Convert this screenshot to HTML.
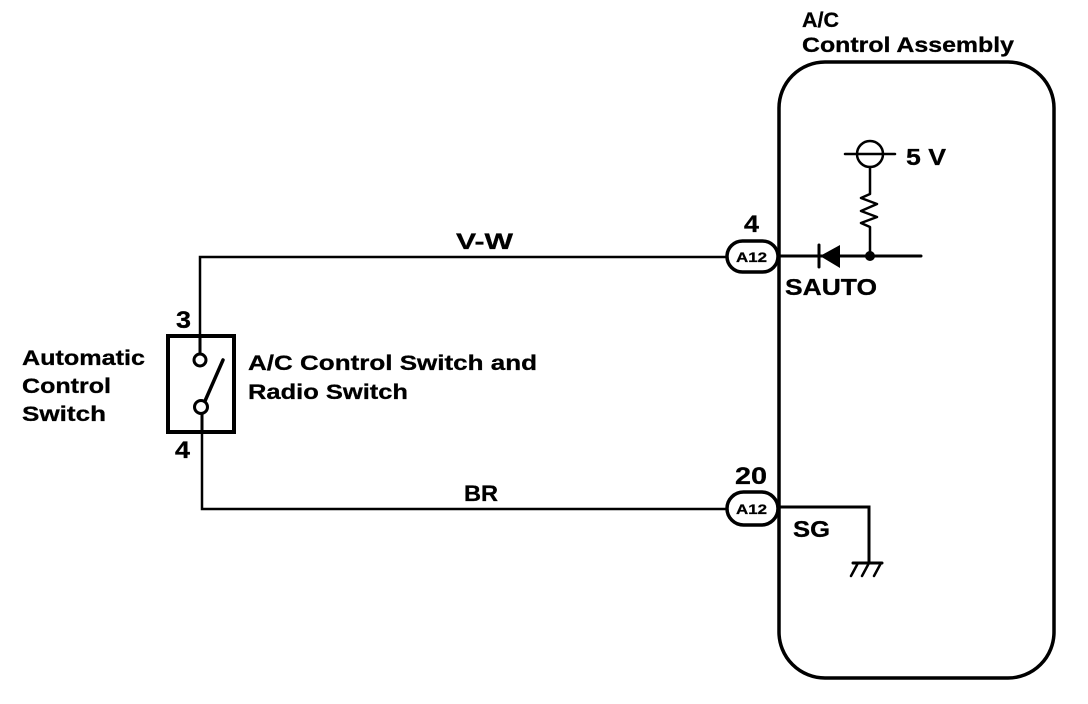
<!DOCTYPE html>
<html><head><meta charset="utf-8">
<style>html,body{margin:0;padding:0;background:#fff}svg{display:block}text{font-family:"Liberation Sans",sans-serif;font-weight:bold;fill:#000;stroke:#000;stroke-width:.3px}</style>
</head><body>
<svg width="1088" height="704" viewBox="0 0 1088 704" xmlns="http://www.w3.org/2000/svg">
<g fill="none" stroke="#000" stroke-linecap="round">
<rect x="779" y="62" width="275" height="616" rx="46" ry="46" stroke-width="3.5"/>
<path d="M200 336V257H727" stroke-width="2.5"/>
<path d="M202 432V509H727" stroke-width="2.5"/>
<rect x="168" y="336" width="66" height="96" stroke-width="4"/>
<path d="M200 336V353M202 413V432" stroke-width="3"/>
<circle cx="200" cy="360" r="6" stroke-width="3" fill="#fff"/>
<circle cx="201" cy="407" r="6.5" stroke-width="3" fill="#fff"/>
<path d="M205 401L223 360" stroke-width="3.5"/>
<rect x="727" y="241" width="51" height="31" rx="15.5" stroke-width="3.5" fill="#fff"/>
<rect x="727" y="492" width="51" height="33" rx="16.5" stroke-width="3.5" fill="#fff"/>
<path d="M779 256H921" stroke-width="3"/>
<path d="M819 245V267" stroke-width="3"/>
<circle cx="870" cy="154" r="13" stroke-width="2.5" fill="none"/>
<path d="M845 154H895" stroke-width="2.5"/>
<path d="M870 167V194L861 198L877 204L861 211L877 217L861 223L870 227V256" stroke-width="2.5" stroke-linejoin="round"/>
<path d="M779 507H869V562" stroke-width="3"/>
<path d="M853 563H882" stroke-width="3"/>
<path d="M858 563L851 576M869 563L862 576M881 563L874 576" stroke-width="2.5"/>
</g>
<path d="M820 256L840 245V268Z" fill="#000"/>
<circle cx="870" cy="256" r="5" fill="#000"/>
<g lengthAdjust="spacingAndGlyphs">
<text x="802" y="27" font-size="21" textLength="37" lengthAdjust="spacingAndGlyphs">A/C</text>
<text x="802" y="52" font-size="21.5" textLength="212" lengthAdjust="spacingAndGlyphs">Control Assembly</text>
<text x="906" y="165" font-size="23" textLength="40" lengthAdjust="spacingAndGlyphs">5 V</text>
<text x="456" y="249" font-size="22" textLength="57" lengthAdjust="spacingAndGlyphs">V-W</text>
<text x="744" y="232" font-size="24" textLength="15" lengthAdjust="spacingAndGlyphs">4</text>
<text x="736" y="262" font-size="14" textLength="31" lengthAdjust="spacingAndGlyphs">A12</text>
<text x="785" y="295" font-size="23" textLength="92" lengthAdjust="spacingAndGlyphs">SAUTO</text>
<text x="176" y="328" font-size="24" textLength="15" lengthAdjust="spacingAndGlyphs">3</text>
<text x="175" y="458" font-size="24" textLength="15" lengthAdjust="spacingAndGlyphs">4</text>
<text x="22" y="365" font-size="21.5" textLength="123" lengthAdjust="spacingAndGlyphs">Automatic</text>
<text x="22" y="393" font-size="21.5" textLength="89" lengthAdjust="spacingAndGlyphs">Control</text>
<text x="22" y="421" font-size="21.5" textLength="84" lengthAdjust="spacingAndGlyphs">Switch</text>
<text x="248" y="370" font-size="21.5" textLength="289" lengthAdjust="spacingAndGlyphs">A/C Control Switch and</text>
<text x="248" y="399" font-size="21.5" textLength="160" lengthAdjust="spacingAndGlyphs">Radio Switch</text>
<text x="464" y="501" font-size="22" textLength="34" lengthAdjust="spacingAndGlyphs">BR</text>
<text x="735" y="484" font-size="24" textLength="32" lengthAdjust="spacingAndGlyphs">20</text>
<text x="736" y="514" font-size="14" textLength="31" lengthAdjust="spacingAndGlyphs">A12</text>
<text x="793" y="537" font-size="23" textLength="37" lengthAdjust="spacingAndGlyphs">SG</text>
</g>
</svg>
</body></html>
